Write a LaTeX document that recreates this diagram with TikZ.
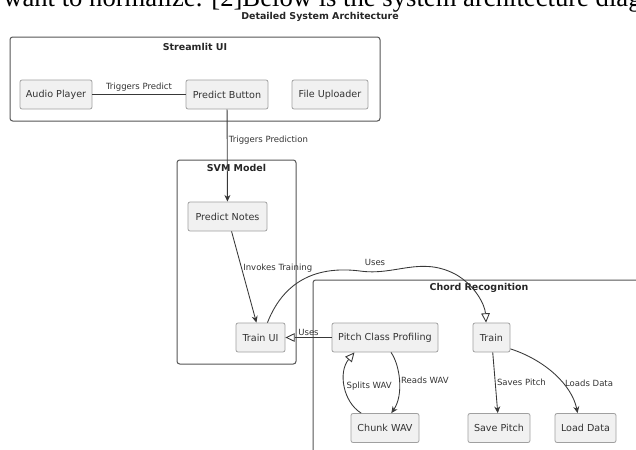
\documentclass[tikz,border=0pt]{standalone}
\usepackage{fontspec}
\setmainfont{DejaVu Sans}
\newfontfamily\pageserif{Liberation Serif}
\usepackage{tikz}
\usetikzlibrary{arrows.meta}
\usepackage{color}
\definecolor{compfill}{HTML}{F1F1F1}
\definecolor{compline}{HTML}{A0A0A0}
\definecolor{pkgline}{HTML}{555555}
\definecolor{edgeline}{HTML}{383838}

\tikzset{
	comp/.style = {draw=compline, fill=compfill, line width=.6pt, rounded corners=1.5pt,
		minimum height=21.75pt, inner sep=2pt, font=\fontsize{7.2}{8}\selectfont, text=black!80},
	pkg/.style = {draw=pkgline, line width=.75pt, rounded corners=2pt},
	pkgtitle/.style = {font=\fontsize{7.1}{8}\selectfont\bfseries, text=black!85},
	lbl/.style = {font=\fontsize{6.4}{7}\selectfont, text=black!80, inner sep=1pt},
	flow/.style = {draw=edgeline, line width=.65pt, -{Stealth[length=5pt,width=4.5pt]}},
	uses/.style = {draw=edgeline, line width=.65pt, -{Triangle[open,length=7pt,width=6.5pt]}},
	plain/.style = {draw=edgeline, line width=.65pt}
}

\begin{document}
\begin{tikzpicture}[x=.75pt, y=-.75pt]
				\useasboundingbox (0,0) rectangle (636,450);
				% cut-off page text and title
				\node[anchor=base west, inner sep=0pt, font=\pageserif\fontsize{20}{22}\selectfont] (pagetext) at (3,6.5) {want to normalize. [2]Below is the system architecture diagram};
				\node[pkgtitle] (title) at (320,17) {Detailed System Architecture};

				% packages
				\draw[pkg] (10,37) rectangle (380,121);
				\node[pkgtitle] (uititle) at (195,47) {Streamlit UI};
				\draw[pkg] (177,160) rectangle (296,364);
				\node[pkgtitle] (svmtitle) at (236.5,168) {SVM Model};
				\draw[pkg] (313,280) rectangle (660,470);
				\node[pkgtitle] (chordtitle) at (479,288) {Chord Recognition};

				% components
				\node[comp, minimum width=54pt] (audio) at (56,94.5) {Audio Player};
				\node[comp, minimum width=61.5pt] (button) at (227,94.5) {Predict Button};
				\node[comp, minimum width=57pt] (uploader) at (330,94.5) {File Uploader};
				\node[comp, minimum width=59.25pt] (notes) at (227.5,216.5) {Predict Notes};
				\node[comp, minimum width=36.75pt] (trainui) at (260.5,337.5) {Train UI};
				\node[comp, minimum width=79.5pt] (pcp) at (385,337.5) {Pitch Class Profiling};
				\node[comp, minimum width=27.75pt] (train) at (491.5,337.5) {Train};
				\node[comp, minimum width=51pt] (chunk) at (385,428) {Chunk WAV};
				\node[comp, minimum width=46.5pt] (savepitch) at (499,428) {Save Pitch};
				\node[comp, minimum width=45.75pt] (loaddata) at (585.5,428) {Load Data};

				% connectors
				\draw[plain] (audio) -- node[lbl, above=1pt] {Triggers Predict} (button);
				\draw[flow] (button) -- node[lbl, right, pos=.33] {Triggers Prediction} (notes);
				\draw[flow] (notes) -- node[lbl, right, pos=.4] {Invokes Training} (trainui);
				\draw[uses] (pcp) -- node[lbl, above, pos=.5] {Uses} (trainui);
				\draw[uses] (trainui.65) .. controls (285,278) and (320,266) .. (360,271)
					.. controls (395,276) and (420,256) .. (455,274)
					.. controls (475,285) and (485,305) .. (train.110);
				\node[lbl] (useslbl) at (375,262) {Uses};
				\draw[uses] (chunk.148) .. controls (343,402) and (338,372) .. node[lbl, right, pos=.5] {Splits WAV} (pcp.206);
				\draw[flow] (pcp.292) .. controls (400,365) and (404,395) .. node[lbl, right, pos=.5] {Reads WAV} (chunk.67);
				\draw[flow] (train) -- node[lbl, right, pos=.5] {Saves Pitch} (savepitch);
				\draw[flow] (train.329) .. controls (545,360) and (572,385) .. node[lbl, right, pos=.63] {Loads Data} (loaddata.118);
			\end{tikzpicture}
\end{document}
